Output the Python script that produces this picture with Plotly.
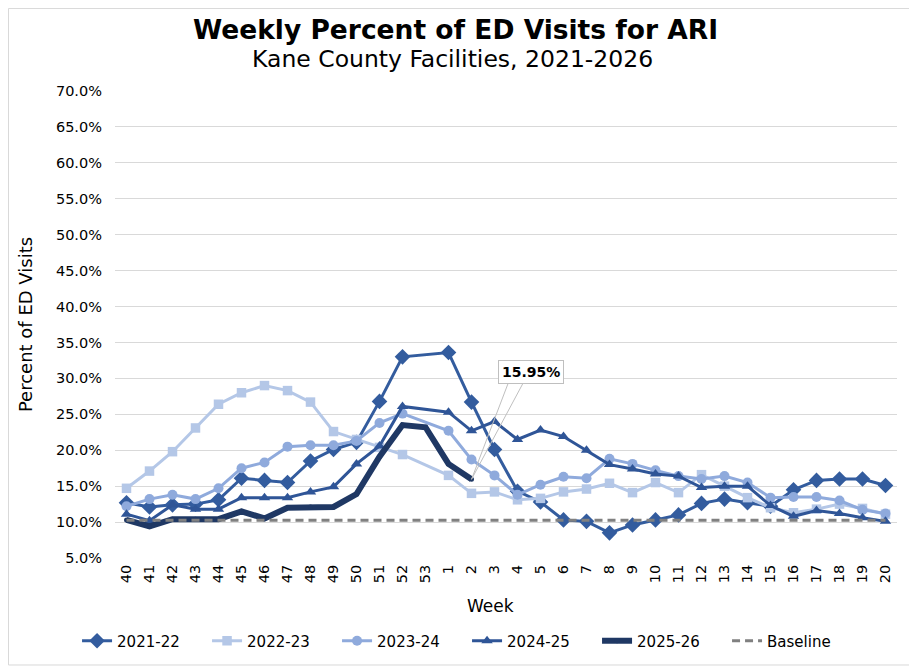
import plotly.graph_objects as go

# MMWR weeks, season runs week 40 -> week 20
weeks = [str(w) for w in range(40, 54)] + [str(w) for w in range(1, 21)]

s2021_22 = [12.7, 12.1, 12.4, 12.5, 13.1, 16.1, 15.8, 15.5, 18.5, 20.1, 21.1, 26.8, 33.0, None,
            33.6, 26.7, 20.1, 14.3, 12.8, 10.3, 10.1, 8.5, 9.6, 10.3, 11.0, 12.6, 13.2, 12.7,
            12.2, 14.5, 15.8, 16.0, 16.0, 15.1]
s2022_23 = [14.7, 17.1, 19.8, 23.1, 26.4, 28.0, 29.0, 28.3, 26.7, 22.6, 21.5, 20.4, 19.4, None,
            16.5, 14.0, 14.2, 13.1, 13.3, 14.2, 14.6, 15.4, 14.1, 15.5, 14.1, 16.6, 15.0, 13.4,
            12.0, 11.3, 11.8, 12.5, 11.9, 11.1]
s2023_24 = [12.2, 13.2, 13.8, 13.2, 14.7, 17.5, 18.3, 20.5, 20.7, 20.7, 21.3, 23.8, 25.1, None,
            22.7, 18.7, 16.5, 13.8, 15.2, 16.3, 16.1, 18.8, 18.1, 17.2, 16.4, 16.0, 16.4, 15.5,
            13.4, 13.5, 13.5, 13.0, 11.7, 11.2]
s2024_25 = [11.1, 10.2, 12.4, 11.8, 11.8, 13.4, 13.4, 13.4, 14.2, 14.9, 18.1, 20.6, 26.1, None,
            25.3, 22.7, 24.0, 21.5, 22.8, 21.9, 20.0, 18.0, 17.4, 16.7, 16.4, 14.8, 15.0, 15.0,
            12.3, 10.8, 11.6, 11.2, 10.6, 10.1]
s2025_26 = [10.3, 9.4, 10.4, 10.4, 10.4, 11.5, 10.5, 12.0, 12.1, 12.1, 13.9, 19.1, 23.5, 23.2,
            18.1, 15.95] + [None] * 18
baseline = [10.25] * len(weeks)

FONT = "DejaVu Sans"

series = [
    ("2021-22", s2021_22, "#335C9E", 3, "diamond", 12),
    ("2022-23", s2022_23, "#B4C7E7", 3, "square", 9.5),
    ("2023-24", s2023_24, "#8FAADC", 3, "circle", 10),
    ("2024-25", s2024_25, "#2F5597", 3, "triangle-up", 10),
    ("2025-26", s2025_26, "#1F3864", 6, "circle", 5),
]

fig = go.Figure()
for name, vals, color, width, symbol, msize in series:
    fig.add_trace(go.Scatter(
        x=weeks, y=vals, name=name, mode="lines+markers",
        connectgaps=True,
        line=dict(color=color, width=width),
        marker=dict(symbol=symbol, size=msize, color=color),
    ))

fig.add_trace(go.Scatter(
    x=weeks, y=baseline, name="Baseline", mode="lines",
    line=dict(color="#808080", width=3, dash="8px,5px"),
))

# callout on the latest value (category axis -> use the index)
last_idx = max(i for i, v in enumerate(s2025_26) if v is not None)
last_val = s2025_26[last_idx]
for ax in (37, 52):
    fig.add_annotation(x=last_idx, y=last_val, text="", showarrow=True, arrowhead=0,
                       arrowwidth=1, arrowcolor="#BFBFBF", ax=ax, ay=-97, standoff=0)
fig.add_annotation(x=last_idx, y=last_val, text=f"<b>{last_val:.2f}%</b>", showarrow=False,
                   xshift=59, yshift=107, bgcolor="white", bordercolor="#BFBFBF",
                   borderwidth=1, borderpad=3, font=dict(family=FONT, size=14, color="black"))

# titles (page body adds an 8px offset, so positions are set relative to that)
fig.add_annotation(xref="paper", yref="paper", x=0.436, y=1.131,
                   text="<b>Weekly Percent of ED Visits for ARI</b>", showarrow=False,
                   yanchor="middle", font=dict(family=FONT, size=26.5, color="black"))
fig.add_annotation(xref="paper", yref="paper", x=0.4316, y=1.0685,
                   text="Kane County Facilities, 2021-2026", showarrow=False,
                   yanchor="middle", font=dict(family=FONT, size=23.5, color="black"))
fig.add_annotation(xref="paper", yref="paper", x=0.4808, y=-0.1028,
                   text="Week", showarrow=False, yanchor="middle",
                   font=dict(family=FONT, size=17, color="black"))

# chart border
fig.add_shape(type="rect", xref="paper", yref="paper", x0=-0.1362, x1=1.0217,
              y0=-0.2291, y1=1.1767, line=dict(color="#D9D9D9", width=1), layer="below")

fig.update_layout(
    width=909, height=661,
    margin=dict(l=107, r=20, t=83, b=111, autoexpand=False),
    paper_bgcolor="white", plot_bgcolor="white",
    font=dict(family=FONT, size=15, color="black"),
    showlegend=True,
    legend=dict(orientation="h", xref="container", yref="container",
                x=0.505, y=0.0424, xanchor="center", yanchor="middle",
                font=dict(family=FONT, size=15), entrywidth=85),
    xaxis=dict(type="category", categoryorder="array", categoryarray=weeks,
               range=[-0.5, len(weeks) - 0.5], automargin=False,
               tickangle=-90, showgrid=False, showline=False, ticks="",
               ticklabelstandoff=3, tickfont=dict(family=FONT, size=14.5)),
    yaxis=dict(range=[5, 70], dtick=5, ticksuffix="%", tickformat=".1f", automargin=False,
               showgrid=True, gridcolor="#D9D9D9", gridwidth=1, zeroline=False,
               showline=False, ticks="", ticklabelstandoff=12,
               tickfont=dict(family=FONT, size=14.5),
               title=dict(text="Percent of ED Visits", standoff=18,
                          font=dict(family=FONT, size=18))),
)

fig.write_html("out.html")
